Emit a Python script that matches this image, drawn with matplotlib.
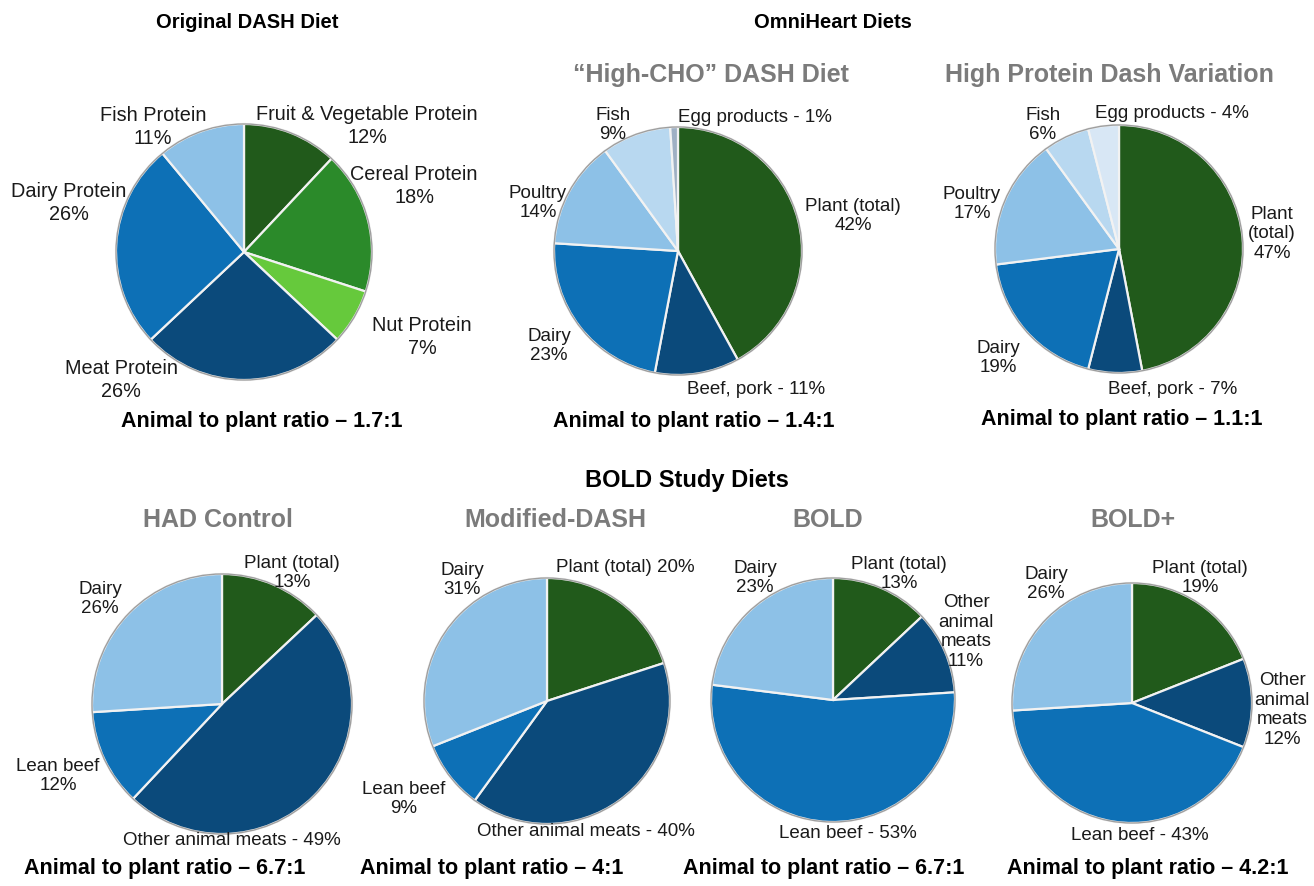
import matplotlib
matplotlib.use("Agg")
import matplotlib.pyplot as plt
from matplotlib.patches import Circle

plt.rcParams["font.family"] = ["Liberation Sans", "DejaVu Sans"]

# ---- data -------------------------------------------------------------
dash_names = ["Fruit & Vegetable Protein", "Cereal Protein", "Nut Protein",
              "Meat Protein", "Dairy Protein", "Fish Protein"]
dash_values = [12, 18, 7, 26, 26, 11]

omni_names = ["Plant (total)", "Beef, pork", "Dairy", "Poultry", "Fish", "Egg products"]
highcho_values = [42, 11, 23, 14, 9, 1]
highprot_values = [47, 7, 19, 17, 6, 4]

bold_names = ["Plant (total)", "Other animal meats", "Lean beef", "Dairy"]
had_values = [13, 49, 12, 26]
moddash_values = [20, 40, 9, 31]
bold_values = [13, 11, 53, 23]
boldplus_values = [19, 12, 43, 26]

ratios = ["1.7:1", "1.4:1", "1.1:1", "6.7:1", "4:1", "6.7:1", "4.2:1"]

# ---- colours ----------------------------------------------------------
DKGREEN = "#215a1b"
GREEN = "#2b8a2a"
LTGREEN = "#66c93c"
DKBLUE = "#0b4a7b"
BLUE = "#0d70b6"
LTBLUE = "#8dc1e7"
PALEBLUE = "#b8d8f0"
EGG_A = "#9fb0c4"
EGG_B = "#d8e7f5"

dash_colors = [DKGREEN, GREEN, LTGREEN, DKBLUE, BLUE, LTBLUE]
highcho_colors = [DKGREEN, DKBLUE, BLUE, LTBLUE, PALEBLUE, EGG_A]
highprot_colors = [DKGREEN, DKBLUE, BLUE, LTBLUE, PALEBLUE, EGG_B]
bold_colors = [DKGREEN, DKBLUE, BLUE, LTBLUE]

W, H = 1314, 887
fig = plt.figure(figsize=(W / 100, H / 100), dpi=100)
ax = fig.add_axes([0, 0, 1, 1])

LABEL_KW = dict(fontsize=13.5, color="#1a1a1a", ha="center", va="center",
                linespacing=1.22)
BIG_LABEL_KW = dict(LABEL_KW, fontsize=14.3, linespacing=1.25)
TITLE_GRAY = dict(fontsize=18, color="#7b7b7b", fontweight="bold",
                  ha="center", va="center")
HEAD = dict(fontsize=14.5, color="black", fontweight="bold", ha="center", va="center")
RATIO = dict(fontsize=15.5, color="black", fontweight="bold", ha="center", va="center")


def txt(x, y, s, **kw):
    """Place text using top-down pixel coordinates."""
    ax.text(x, H - y, s, **kw)


def draw_pie(cx, cy, r, values, colors):
    ax.pie(values, colors=colors, center=(cx, H - cy), radius=r,
           startangle=90, counterclock=False,
           wedgeprops=dict(edgecolor="#f2f2f2", linewidth=1.6))
    ax.add_patch(Circle((cx, H - cy), r, fill=False, edgecolor="#3a3a3a",
                        linewidth=1.0, alpha=0.45))


def pct(v):
    return f"{v}%"


# ---- section headings -------------------------------------------------
txt(247, 22, "Original DASH Diet", **HEAD)
txt(833, 22, "OmniHeart Diets", **HEAD)
txt(687, 481, "BOLD Study Diets", fontsize=17, color="black",
    fontweight="bold", ha="center", va="center")

# ---- Original DASH ----------------------------------------------------
draw_pie(244, 253, 128, dash_values, dash_colors)
txt(153, 127, f"{dash_names[5]}\n{pct(dash_values[5])}", **BIG_LABEL_KW)
txt(367, 126, f"{dash_names[0]}\n{pct(dash_values[0])}", **BIG_LABEL_KW)
txt(414, 186, f"{dash_names[1]}\n{pct(dash_values[1])}", **BIG_LABEL_KW)
txt(69, 203, f"{dash_names[4]}\n{pct(dash_values[4])}", **BIG_LABEL_KW)
txt(422, 337, f"{dash_names[2]}\n{pct(dash_values[2])}", **BIG_LABEL_KW)
txt(121, 380, f"{dash_names[3]}\n{pct(dash_values[3])}", **BIG_LABEL_KW)
txt(262, 422, f"Animal to plant ratio \u2013 {ratios[0]}", **RATIO)

# ---- "High-CHO" DASH --------------------------------------------------
txt(711, 75, "\u201cHigh-CHO\u201d DASH Diet", **TITLE_GRAY)
draw_pie(678, 252, 124, highcho_values, highcho_colors)
txt(613, 125, f"{omni_names[4]}\n{pct(highcho_values[4])}", **LABEL_KW)
txt(755, 117, f"{omni_names[5]} - {pct(highcho_values[5])}", **LABEL_KW)
txt(538, 203, f"{omni_names[3]}\n{pct(highcho_values[3])}", **LABEL_KW)
txt(853, 216, f"{omni_names[0]}\n{pct(highcho_values[0])}", **LABEL_KW)
txt(549, 346, f"{omni_names[2]}\n{pct(highcho_values[2])}", **LABEL_KW)
txt(756, 390, f"{omni_names[1]} - {pct(highcho_values[1])}", **LABEL_KW)
txt(694, 421, f"Animal to plant ratio \u2013 {ratios[1]}", **RATIO)

# ---- High Protein DASH variation -------------------------------------
txt(1109, 75, "High Protein Dash Variation", **TITLE_GRAY)
draw_pie(1119, 250, 124, highprot_values, highprot_colors)
txt(1043, 125, f"{omni_names[4]}\n{pct(highprot_values[4])}", **LABEL_KW)
txt(1172, 113, f"{omni_names[5]} - {pct(highprot_values[5])}", **LABEL_KW)
txt(972, 204, f"{omni_names[3]}\n{pct(highprot_values[3])}", **LABEL_KW)
txt(1272, 234, f"Plant\n(total)\n{pct(highprot_values[0])}", **LABEL_KW)
txt(998, 358, f"{omni_names[2]}\n{pct(highprot_values[2])}", **LABEL_KW)
txt(1173, 389, f"{omni_names[1]} - {pct(highprot_values[1])}", **LABEL_KW)
txt(1122, 420, f"Animal to plant ratio \u2013 {ratios[2]}", **RATIO)

# ---- HAD control ------------------------------------------------------
txt(218, 520, "HAD Control", **TITLE_GRAY)
draw_pie(222, 705, 130, had_values, bold_colors)
txt(292, 573, f"{bold_names[0]}\n{pct(had_values[0])}", **LABEL_KW)
txt(100, 599, f"{bold_names[3]}\n{pct(had_values[3])}", **LABEL_KW)
txt(58, 776, f"{bold_names[2]}\n{pct(had_values[2])}", **LABEL_KW)
txt(232, 841, f"{bold_names[1]} - {pct(had_values[1])}", **LABEL_KW)
txt(165, 869, f"Animal to plant ratio \u2013 {ratios[3]}", **RATIO)

# ---- Modified DASH ----------------------------------------------------
txt(555, 520, "Modified-DASH", **TITLE_GRAY)
draw_pie(547, 702, 123, moddash_values, bold_colors)
txt(462, 580, f"{bold_names[3]}\n{pct(moddash_values[3])}", **LABEL_KW)
txt(625, 568, f"{bold_names[0]} {pct(moddash_values[0])}", **LABEL_KW)
txt(404, 799, f"{bold_names[2]}\n{pct(moddash_values[2])}", **LABEL_KW)
txt(586, 832, f"{bold_names[1]} - {pct(moddash_values[1])}", **LABEL_KW)
txt(492, 869, f"Animal to plant ratio \u2013 {ratios[4]}", **RATIO)

# ---- BOLD -------------------------------------------------------------
txt(828, 520, "BOLD", **TITLE_GRAY)
draw_pie(833, 701, 122, bold_values, bold_colors)
txt(755, 578, f"{bold_names[3]}\n{pct(bold_values[3])}", **LABEL_KW)
txt(899, 574, f"{bold_names[0]}\n{pct(bold_values[0])}", **LABEL_KW)
txt(966, 632, f"Other\nanimal\nmeats\n{pct(bold_values[1])}", **LABEL_KW)
txt(848, 834, f"{bold_names[2]} - {pct(bold_values[2])}", **LABEL_KW)
txt(824, 869, f"Animal to plant ratio \u2013 {ratios[5]}", **RATIO)

# ---- BOLD+ ------------------------------------------------------------
txt(1133, 520, "BOLD+", **TITLE_GRAY)
draw_pie(1132, 704, 120, boldplus_values, bold_colors)
txt(1046, 584, f"{bold_names[3]}\n{pct(boldplus_values[3])}", **LABEL_KW)
txt(1200, 578, f"{bold_names[0]}\n{pct(boldplus_values[0])}", **LABEL_KW)
txt(1282, 710, f"Other\nanimal\nmeats\n{pct(boldplus_values[1])}", **LABEL_KW)
txt(1140, 836, f"{bold_names[2]} - {pct(boldplus_values[2])}", **LABEL_KW)
txt(1148, 869, f"Animal to plant ratio \u2013 {ratios[6]}", **RATIO)

ax.set_xlim(0, W)
ax.set_ylim(0, H)
ax.set_aspect("equal")
ax.axis("off")

fig.savefig("out.png", dpi=100, facecolor="white")
